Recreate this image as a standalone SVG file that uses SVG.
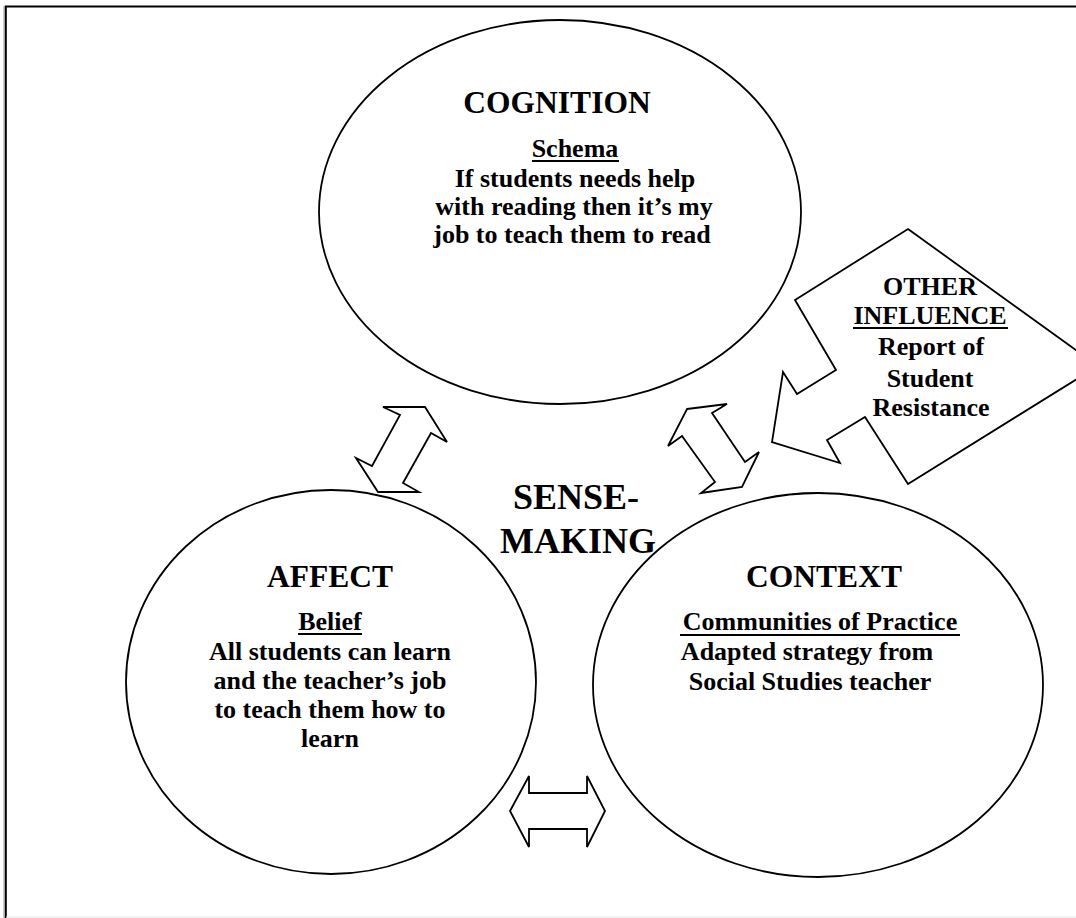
<svg xmlns="http://www.w3.org/2000/svg" width="1076" height="918" viewBox="0 0 1076 918">
<style>
.shape{fill:#fff;stroke:#000;stroke-width:1.8;stroke-linejoin:miter}
.h{font-family:"Liberation Serif","Times New Roman",serif;font-weight:bold;font-size:31.5px;text-anchor:middle;fill:#000}
.t{font-family:"Liberation Serif","Times New Roman",serif;font-weight:bold;font-size:26px;text-anchor:middle;fill:#000}
.big{font-family:"Liberation Serif","Times New Roman",serif;font-weight:bold;font-size:36px;text-anchor:middle;fill:#000}
.ul{stroke:#000;stroke-width:2}
</style>
<rect width="1076" height="918" fill="#fff"/>
<g id="frame">
<line x1="4" y1="6" x2="4" y2="918" stroke="#999" stroke-width="1"/>
<path d="M5.8,918 V6.6 H1076" fill="none" stroke="#000" stroke-width="2"/>
<line x1="6" y1="917" x2="1076" y2="917" stroke="#e6e6e6" stroke-width="1"/>
</g>
<g id="cognition">
<ellipse class="shape" cx="560" cy="212" rx="241" ry="192"/>
<text class="h" x="557" y="113">COGNITION</text>
<text class="t" x="575" y="157">Schema</text>
<line class="ul" x1="532" y1="161" x2="619" y2="161"/>
<text class="t" x="575" y="187">If students needs help</text>
<text class="t" x="574" y="215">with reading then it’s my</text>
<text class="t" x="572" y="243">job to teach them to read</text>
</g>
<g id="affect">
<ellipse class="shape" cx="331" cy="682" rx="205" ry="192"/>
<text class="h" x="330" y="587">AFFECT</text>
<text class="t" x="330" y="630">Belief</text>
<line class="ul" x1="298" y1="634" x2="362" y2="634"/>
<text class="t" x="330" y="660">All students can learn</text>
<text class="t" x="330" y="689">and the teacher’s job</text>
<text class="t" x="330" y="718">to teach them how to</text>
<text class="t" x="330" y="747">learn</text>
</g>
<g id="context">
<ellipse class="shape" cx="818" cy="685" rx="225" ry="192"/>
<text class="h" x="824" y="587">CONTEXT</text>
<text class="t" x="820" y="630">Communities of Practice</text>
<line class="ul" x1="680" y1="635" x2="960" y2="635"/>
<text class="t" x="807" y="660">Adapted strategy from</text>
<text class="t" x="810" y="690">Social Studies teacher</text>
</g>
<g id="sensemaking">
<text class="big" x="576" y="509">SENSE-</text>
<text class="big" x="578" y="553">MAKING</text>
</g>
<g id="other-influence">
<path class="shape" d="M908,229 L1098,366 L908,484 L865,417 L827,440 L840,463 L772,442 L783,372 L797,394 L836,370 L795,300 Z"/>
<text class="t" x="930" y="295">OTHER</text>
<text class="t" x="930" y="324">INFLUENCE</text>
<line class="ul" x1="853" y1="328" x2="1008" y2="328"/>
<text class="t" x="931" y="355">Report of</text>
<text class="t" x="930" y="387">Student</text>
<text class="t" x="931" y="416">Resistance</text>
</g>
<g id="connectors">
<path class="shape" d="M383,407 L425,407 L447,442 L431,433 L403,483 L419,492 L378,492 L356,458 L372,466 L400,415 Z"/>
<path class="shape" d="M687,409 L727,404 L712,413 L745,462 L759,452 L742,487 L701,493 L715,482 L682,436 L668,446 Z"/>
<path class="shape" d="M510,811 L529,776 L529,793 L587,793 L587,776 L605,811 L587,847 L587,829 L529,829 L529,847 Z"/>
</g>
</svg>
